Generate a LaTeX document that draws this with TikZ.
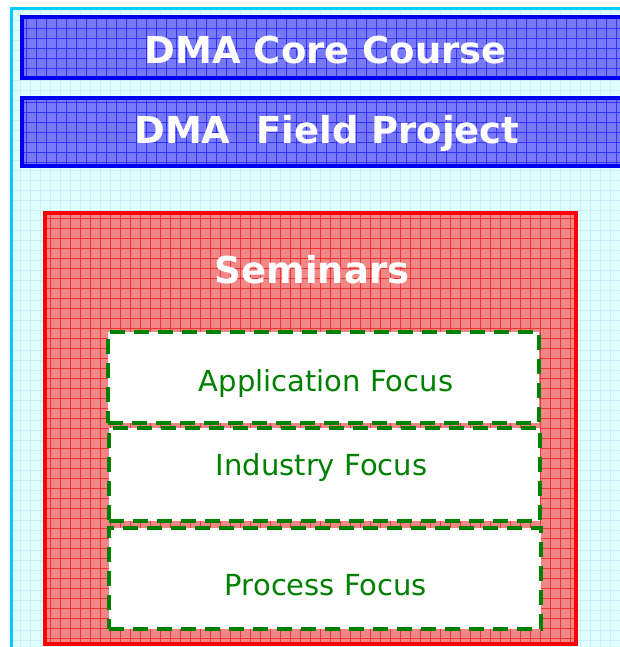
\documentclass[tikz,border=0pt]{standalone}
\usepackage{fontspec}
\setmainfont{DejaVu Sans}
\definecolor{bgcyan}{RGB}{224,255,255}
\definecolor{bggrid}{RGB}{200,240,250}
\definecolor{framecyan}{RGB}{0,204,255}
\definecolor{bluefill}{RGB}{120,120,250}
\definecolor{bluegrid}{RGB}{50,50,255}
\definecolor{blueedge}{RGB}{0,0,240}
\definecolor{redfill}{RGB}{242,135,135}
\definecolor{redgrid}{RGB}{240,50,50}
\definecolor{rededge}{RGB}{255,0,0}
\definecolor{dgreen}{RGB}{0,128,0}
\tikzset{
  gridfill/.style={path picture={\draw[#1,line width=0.7pt,step=10pt]
    ([shift={(-20pt,-20pt)}]path picture bounding box.south west) grid
    ([shift={(20pt,20pt)}]path picture bounding box.north east);}},
  bluebox/.style={draw=blueedge,line width=4pt,fill=bluefill,gridfill=bluegrid,
    inner sep=0pt,minimum width=608pt},
  titletext/.style={text=white,font=\fontsize{37}{40}\selectfont\bfseries},
  redbox/.style={draw=rededge,line width=4pt,fill=redfill,gridfill=redgrid,
    inner sep=0pt,minimum width=531pt,minimum height=431pt},
  focusbox/.style={draw=dgreen,line width=4.5pt,fill=white,dash pattern=on 15pt off 9pt,
    inner sep=0pt},
  focustext/.style={text=dgreen,font=\fontsize{29}{32}\selectfont},
}
\begin{document}
\begin{tikzpicture}[x=1pt,y=-1pt]
\useasboundingbox (0,0) rectangle (619,647);
% background
\fill[bgcyan] (11,9) rectangle (625,655);
\begin{scope}
\clip (11,9) rectangle (625,655);
\draw[bggrid,line width=0.6pt,step=10pt] (11,9) grid (625,655);
\end{scope}
\draw[framecyan,line width=3pt] (11,660) -- (11,9) -- (630,9);
% blue boxes
\node[bluebox,minimum height=61pt] (core) at (326,48) {};
\node[titletext] (coret) at (326,50) {DMA Core Course};
\node[bluebox,minimum height=68pt] (field) at (326,132.5) {};
\node[titletext] (fieldt) at (327,133) {DMA\ \ Field Project};
% red box
\node[redbox] (sem) at (310,428) {};
\node[titletext] (semt) at (312,270) {Seminars};
% focus boxes
\node[focusbox,minimum width=431pt,minimum height=91pt] (app) at (323.5,377.5) {};
\node[focustext] (appt) at (326,383) {Application Focus};
\node[focusbox,minimum width=431pt,minimum height=93pt] (ind) at (324.5,474.5) {};
\node[focustext] (indt) at (321.5,467) {Industry Focus};
\node[focusbox,minimum width=432pt,minimum height=101pt] (proc) at (325,578.5) {};
\node[focustext] (proct) at (326,585) {Process Focus};
\end{tikzpicture}
\end{document}
